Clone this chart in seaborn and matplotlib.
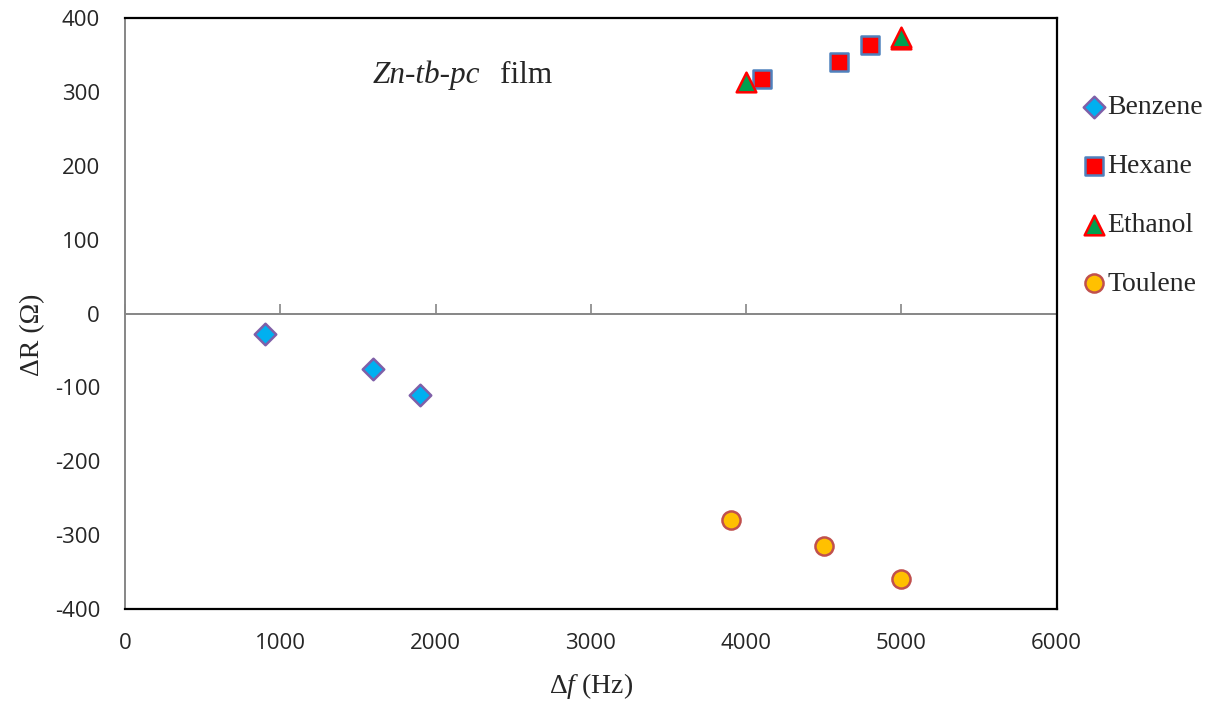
import pandas as pd
import matplotlib.pyplot as plt
import seaborn as sns

# values
benzene_x = [900, 1600, 1900]
benzene_y = [-28, -75, -110]
hexane_x = [4100, 4600, 4800]
hexane_y = [318, 340, 364]
ethanol_x = [4000, 5000, 5000]
ethanol_y = [314, 371, 374]
toulene_x = [3900, 4500, 5000]
toulene_y = [-280, -315, -360]

x_ticks = [0, 1000, 2000, 3000, 4000, 5000, 6000]
y_ticks = [-400, -300, -200, -100, 0, 100, 200, 300, 400]

series = [
    ("Benzene", benzene_x, benzene_y, "D", "#00b0f0", "#7f5fa8", 120),
    ("Hexane", hexane_x, hexane_y, "s", "#ff0000", "#4f81bd", 160),
    ("Ethanol", ethanol_x, ethanol_y, "^", "#00a050", "#ff0000", 200),
    ("Toulene", toulene_x, toulene_y, "o", "#ffc000", "#c0504d", 170),
]

sns.set_style("white")
plt.rcParams['font.family'] = ['Open Sans', 'DejaVu Sans']
plt.rcParams['mathtext.fontset'] = 'custom'
plt.rcParams['mathtext.rm'] = 'Liberation Serif'
plt.rcParams['mathtext.it'] = 'Liberation Serif:italic'
plt.rcParams['axes.unicode_minus'] = False

fig = plt.figure(figsize=(12.2, 7.09), dpi=100)
ax = fig.add_axes([0.1025, 0.141, 0.7635, 0.8336])

for name, xs, ys, mk, fc, ec, sz in series:
    df = pd.DataFrame({'x': xs, 'y': ys})
    sns.scatterplot(data=df, x='x', y='y', marker=mk, color=fc, edgecolor=ec,
                    linewidth=1.8, s=sz, ax=ax, label=name, zorder=3)

ax.set_xlim(0, 6000)
ax.set_ylim(-400, 400)
ax.set_xticks(x_ticks)
ax.set_yticks(y_ticks)
ax.tick_params(axis='x', length=0, labelsize=16, pad=17)
ax.tick_params(axis='y', direction='in', length=7, width=1.2, color='#868686',
               labelsize=16, pad=18)

for s in ['top', 'right', 'bottom']:
    ax.spines[s].set_color('black')
    ax.spines[s].set_linewidth(1.6)
ax.spines['left'].set_color('#868686')
ax.spines['left'].set_linewidth(1.4)

# x axis line crossing at zero
sec = ax.secondary_xaxis(0.5)
sec.set_xticks(x_ticks)
sec.tick_params(axis='x', direction='out', length=7, width=1.2, color='#868686',
                labelbottom=False, labeltop=False)
for s in ['bottom', 'top']:
    sec.spines[s].set_color('#868686')
    sec.spines[s].set_linewidth(1.4)

ax.set_xlabel(r"$\Delta f$ (Hz)", fontsize=20, family='Liberation Serif')
ax.set_ylabel("ΔR (Ω)", fontsize=20, family='Liberation Serif')
ax.xaxis.set_label_coords(0.5, -0.105)
ax.yaxis.set_label_coords(-0.086, 0.464)

ax.text(1597, 312, "Zn-tb-pc", fontsize=22.5, style='italic', family='Liberation Serif', va='baseline')
ax.text(2414, 312, "film", fontsize=22.5, family='Liberation Serif', va='baseline')

ax.legend(loc='upper left', bbox_to_anchor=(1.01, 0.87), frameon=False,
          prop={'family': 'Liberation Serif', 'size': 20}, labelspacing=1.2,
          handletextpad=-0.5, borderaxespad=0, borderpad=0)

plt.savefig("out.png", dpi=100)
plt.close()
